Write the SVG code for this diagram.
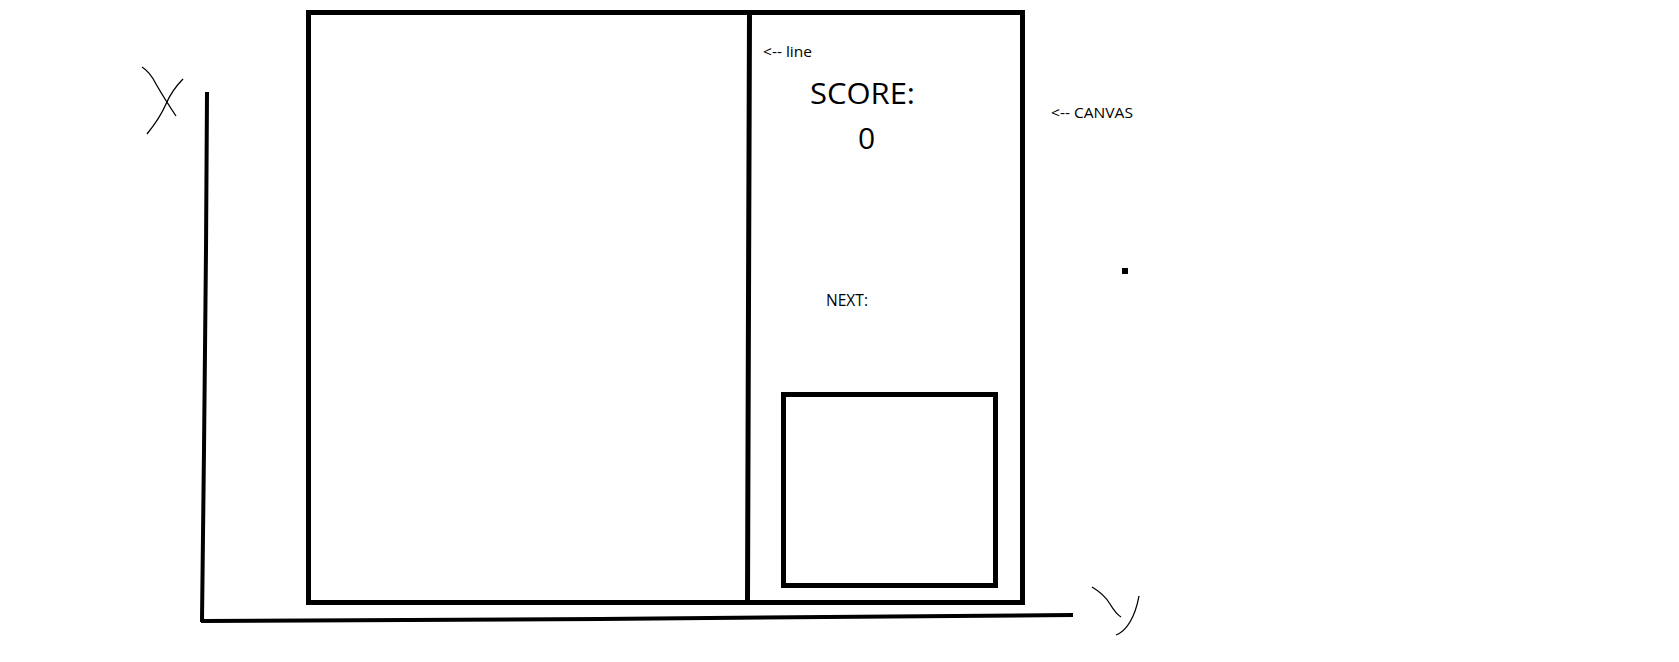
<svg xmlns="http://www.w3.org/2000/svg" width="1679" height="662" viewBox="0 0 1679 662">
<style>
.thick{fill:none;stroke:#000;stroke-width:5}
.axis{fill:none;stroke:#000;stroke-width:4;stroke-linecap:square}
.scribble{fill:none;stroke:#000;stroke-width:1.3}
.t{font-family:"Open Sans","Liberation Sans",sans-serif;fill:#000}
</style>
<rect width="1679" height="662" fill="#fff"/>
<g id="canvas">
<rect class="thick" x="308.5" y="12.5" width="714" height="590"/>
</g>
<g id="divider">
<path class="thick" d="M749.5 12 L748.5 300 L747.5 602"/>
</g>
<g id="next-box">
<rect class="thick" x="783.5" y="394.5" width="212" height="191"/>
</g>
<g id="axes">
<path class="axis" d="M207 94 L206 250 L204 450 L202 620"/>
<path class="axis" d="M203 621 L600 619 L1071 615"/>
<path class="scribble" d="M142 67 Q150 72 156 84 Q164 98 176 116"/>
<path class="scribble" d="M183 79 Q172 90 166 104 Q160 118 147 134"/>
<path class="scribble" d="M1092 587 Q1104 594 1110 604 Q1116 614 1121 617"/>
<path class="scribble" d="M1139 596 Q1136 612 1130 622 Q1124 632 1116 635"/>
<rect x="1122" y="268" width="6" height="6" fill="#000"/>
</g>
<g id="labels">
<text class="t" x="763" y="57" font-size="14.5" textLength="49" lengthAdjust="spacingAndGlyphs">&lt;-- line</text>
<text class="t" x="810" y="104" font-size="30" textLength="105" lengthAdjust="spacingAndGlyphs">SCORE:</text>
<text class="t" x="866.5" y="149" font-size="30" text-anchor="middle">0</text>
<text class="t" x="1051" y="118" font-size="14.5" textLength="82" lengthAdjust="spacingAndGlyphs">&lt;-- CANVAS</text>
<text class="t" x="826" y="306" font-size="15.5" textLength="42" lengthAdjust="spacingAndGlyphs">NEXT:</text>
</g>
</svg>
